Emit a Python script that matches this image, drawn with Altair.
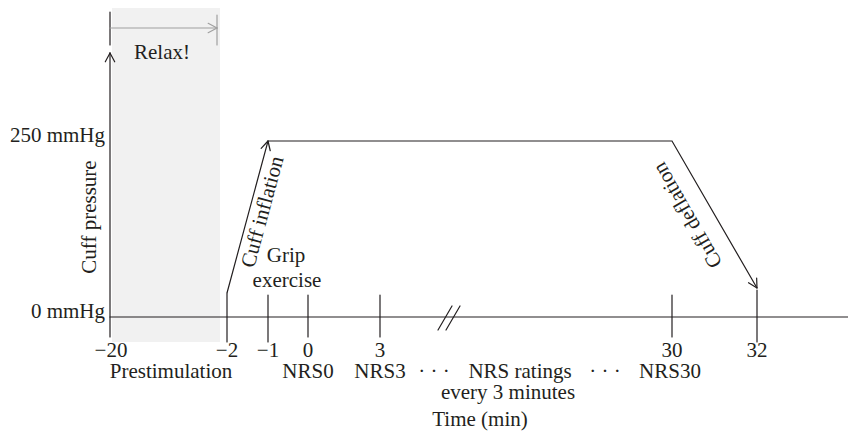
import math
import altair as alt
import pandas as pd

# ---------------------------------------------------------------------------
# Schematic layout: positions are in page layout units (the diagram is not
# drawn to scale; the time axis has a break).
# ---------------------------------------------------------------------------
W, H = 840, 425
X_DOMAIN = [8, 8 + W]
Y_DOMAIN = [8, 8 + H]

INK = "#231f20"
GREY_LINE = "#a0a0a0"
SHADE = "#f1f1f1"
FONT = "Liberation Serif"
FS = 21

# time axis tick labels (minutes) and their schematic positions
tick_labels = ["\u221220", "\u22122", "\u22121", "0", "3", "30", "32"]
tick_x = [111, 227, 268, 308, 380, 672, 757]

# vertical event markers on the time axis
marker_x = [227, 268, 308, 380, 672, 757]
marker_top = [293, 295, 295, 295, 295, 290]
marker_bottom = [342, 342, 337, 337, 337, 342]

# event labels below the tick labels
event_labels = ["Prestimulation", "NRS0", "NRS3", "\u00b7 \u00b7 \u00b7",
                "NRS ratings", "\u00b7 \u00b7 \u00b7", "NRS30"]
event_x = [171, 308, 380, 434, 520, 605, 670]

# pressure levels
pressure_labels = ["250 mmHg", "0 mmHg"]
pressure_level_y = [141, 317]

# cuff pressure profile (start, end of inflation, start of deflation, end)
profile_x = [227, 268, 672, 757]
profile_y = [293, 141, 141, 288]

# axes and annotations
axis_origin = (110, 317)
axis_x_end = 8 + W
axis_y_top = 53
axis_y_bottom = 337
relax_span = (110, 217)
relax_y = 28
prestim_shade_x = (112, 220)
prestim_shade_y = (5, 342)
break_marks = [(438, 330, 452, 306), (446, 330, 460, 306)]


def arrow_head(x0, y0, x1, y1, length=10.0, spread=28.0):
    d = math.atan2(y1 - y0, x1 - x0)
    segs = []
    for s in (1, -1):
        a = d + math.pi + s * math.radians(spread)
        segs.append((x1 + length * math.cos(a), y1 + length * math.sin(a), x1, y1))
    return segs


segs = []


def add(seg, color=INK, w=1.2):
    x, y, x2, y2 = seg
    segs.append(dict(x=x, y=y, x2=x2, y2=y2, c=color, w=w))


# y axis with arrow
ox, oy = axis_origin
add((ox, axis_y_bottom, ox, axis_y_top))
for s in arrow_head(ox, axis_y_bottom, ox, axis_y_top):
    add(s)
# x axis
add((ox, oy, axis_x_end, oy))
# event markers
for mx, t, b in zip(marker_x, marker_top, marker_bottom):
    add((mx, t, mx, b))
# break marks
for b in break_marks:
    add(b)
# relax bracket
add((relax_span[0], 12, relax_span[0], 45))
add((relax_span[0], relax_y, relax_span[1], relax_y), GREY_LINE, 1.2)
for s in arrow_head(relax_span[0], relax_y, relax_span[1], relax_y):
    add(s, GREY_LINE, 1.2)
add((relax_span[1], 15, relax_span[1], 45), GREY_LINE, 1.2)
# arrowheads on the pressure profile
for s in arrow_head(profile_x[0], profile_y[0], profile_x[1], profile_y[1]):
    add(s)
for s in arrow_head(profile_x[2], profile_y[2], profile_x[3], profile_y[3]):
    add(s)

seg_df = pd.DataFrame(segs)
xs = alt.Scale(domain=X_DOMAIN, nice=False, zero=False)
ys = alt.Scale(domain=Y_DOMAIN, nice=False, zero=False, reverse=True)

shade = alt.Chart(pd.DataFrame({
    "x": [prestim_shade_x[0]], "x2": [prestim_shade_x[1]],
    "y": [prestim_shade_y[0]], "y2": [prestim_shade_y[1]],
})).mark_rect(color=SHADE, clip=True).encode(
    x=alt.X("x:Q", scale=xs, axis=None), x2="x2:Q",
    y=alt.Y("y:Q", scale=ys, axis=None), y2="y2:Q",
)

rules = alt.Chart(seg_df).mark_rule(strokeCap="round").encode(
    x=alt.X("x:Q", scale=xs, axis=None), x2="x2:Q",
    y=alt.Y("y:Q", scale=ys, axis=None), y2="y2:Q",
    color=alt.Color("c:N", scale=None),
    strokeWidth=alt.StrokeWidth("w:Q", scale=None),
)

profile = alt.Chart(pd.DataFrame({
    "x": profile_x, "y": profile_y, "o": list(range(len(profile_x)))
})).mark_line(color=INK, strokeWidth=1.2, strokeJoin="miter").encode(
    x=alt.X("x:Q", scale=xs, axis=None),
    y=alt.Y("y:Q", scale=ys, axis=None),
    order="o:Q",
)


def text_layer(labels, xv, yv, align="center", baseline="alphabetic", angle=0):
    df = pd.DataFrame({"t": labels, "x": xv, "y": yv})
    return alt.Chart(df).mark_text(
        font=FONT, fontSize=FS, color=INK, align=align, baseline=baseline, angle=angle
    ).encode(
        x=alt.X("x:Q", scale=xs, axis=None),
        y=alt.Y("y:Q", scale=ys, axis=None),
        text="t:N",
    )


texts = [
    text_layer(tick_labels, tick_x, [357] * len(tick_labels)),
    text_layer(event_labels, event_x, [378] * len(event_labels)),
    text_layer(["every 3 minutes"], [508], [399]),
    text_layer(["Time (min)"], [480], [426]),
    text_layer(pressure_labels, [105, 105], [p + 1 for p in pressure_level_y], align="right"),
    text_layer(["Relax!"], [162], [59]),
    text_layer(["Grip"], [286], [262]),
    text_layer(["exercise"], [287], [287]),
    text_layer(["Cuff pressure"], [90], [217], baseline="middle", angle=270),
    text_layer(["Cuff inflation"], [263], [212], baseline="middle", angle=285),
    text_layer(["Cuff deflation"], [688], [215], baseline="middle", angle=240),
]

chart = alt.layer(shade, rules, profile, *texts).properties(
    width=W, height=H, padding=0, autosize=alt.AutoSizeParams(type="none"),
    background="white",
).configure_view(stroke=None)

chart.save("out.html", embed_options={"renderer": "svg", "actions": False})
